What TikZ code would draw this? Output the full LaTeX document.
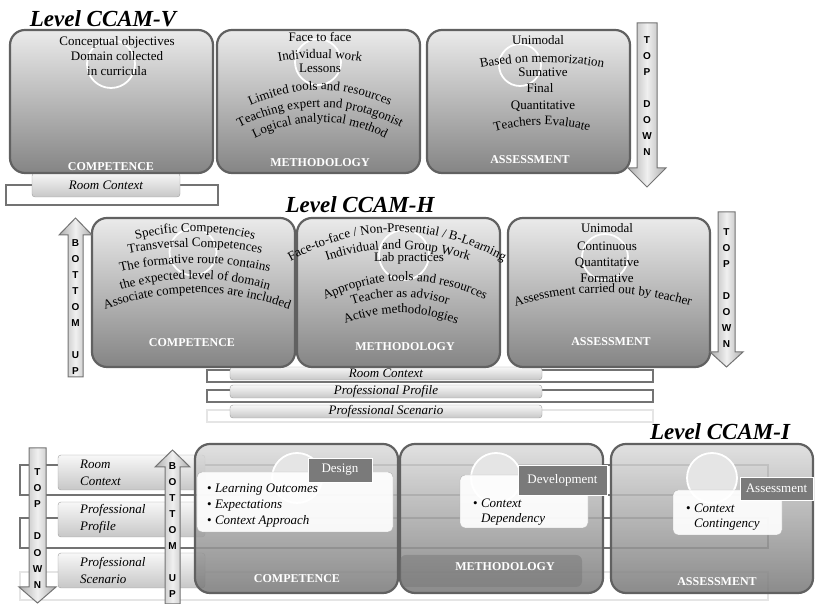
\documentclass[tikz,border=0pt]{standalone}
\usepackage{fontspec}
\setmainfont{Liberation Serif}
\newfontfamily\arrowfont{Liberation Sans}
\usepackage{tikz}
\usetikzlibrary{decorations.text}
\newcommand\bodyfont{\fontsize{13}{16}\selectfont}

\begin{document}
\begin{tikzpicture}[x=1pt, y=1pt,
	panel/.style={draw=black!62, line width=2.2pt, rounded corners=15pt, top color=black!8, middle color=black!22, bottom color=black!48, minimum width=203pt, minimum height=149pt, inner sep=0pt},
	lowpanel/.style={panel, top color=black!14, middle color=black!30, bottom color=black!53, fill opacity=0.86},
	ring/.style={circle, draw=white, line width=1.8pt, minimum size=48pt, inner sep=0pt},
	txt/.style={font=\bodyfont, inner sep=0pt, anchor=base},
	lbl/.style={font=\fontsize{12}{14}\selectfont\bfseries, text=white, inner sep=0pt},
	leveltitle/.style={font=\fontsize{23}{26}\selectfont\bfseries\itshape, inner sep=0pt, anchor=base},
	archtext/.style={decorate, decoration={text along path, text align=center, text={|\bodyfont|#1}}},
	blockarrow/.style={draw=black!55, line width=1pt, left color=black!32, right color=black!32, middle color=black!6},
	updown/.style={font=\arrowfont\bfseries\fontsize{10}{16.1}\selectfont, align=center, inner sep=0pt},
	ctxframe/.style={draw=black!55, line width=1.2pt, fill=white, inner sep=0pt},
	ctxbar/.style={draw=black!38, rounded corners=3pt, top color=black!3, bottom color=black!22, inner sep=0pt, font=\bodyfont\itshape},
	note/.style={draw=black!30, rounded corners=5pt, fill=white, fill opacity=0.92, inner sep=0pt},
	tagbox/.style={fill=black!52, draw=white, line width=0.6pt, text=white, font=\bodyfont, inner sep=0pt}
	]
	\useasboundingbox (0,0) rectangle (815,604);

	% Level CCAM-V
	\node[leveltitle] (vtitle) at (103,577) {Level CCAM-V};
	\node[ctxframe, minimum width=212pt, minimum height=20pt] (vframe) at (112,409) {};
	\node[ctxbar, minimum width=148pt, minimum height=24pt] (vroom) at (106,419) {Room Context};

	\node[panel, minimum height=143pt] (vcomp) at (111.5,502.5) {};
	\node[panel, minimum height=143pt] (vmeth) at (318.5,502.5) {};
	\node[panel, minimum height=143pt] (vass) at (528.5,502.5) {};
	\node[ring, minimum size=48pt] (vcompring) at (111,540) {};
	\node[ring, minimum size=46pt] (vmethring) at (318,542) {};
	\node[ring, minimum size=42pt] (vassring) at (520,539) {};

	\node[txt] (vcomp1) at (117,558) {Conceptual objectives};
	\node[txt] (vcomp2) at (117,543) {Domain collected};
	\node[txt] (vcomp3) at (117,528) {in curricula};

	\node[txt] (vmeth1) at (320,562) {Face to face};
	\path[archtext={Individual work}] (252,536) .. controls (297.3,549.3) and (342.7,549.3) .. (388,536);
	\node[txt] (vmeth3) at (320,531) {Lessons};
	\path[archtext={Limited tools and resources}] (225,484.5) .. controls (288.3,523.8) and (351.7,523.8) .. (415,484.5);
	\path[archtext={Teaching expert and protagonist}] (215,462.5) .. controls (285,508.5) and (355,508.5) .. (425,462.5);
	\path[archtext={Logical analytical method}] (228,449.9) .. controls (289.3,492.7) and (350.7,492.7) .. (412,449.9);

	\node[txt] (vass1) at (538,559) {Unimodal};
	\path[archtext={Based on memorization}] (455,530.2) .. controls (513,545.9) and (571,545.9) .. (629,530.2);
	\node[txt] (vass3) at (543,527) {Sumative};
	\node[txt] (vass4) at (540,511) {Final};
	\node[txt] (vass5) at (543,494) {Quantitative};
	\path[archtext={Teachers Evaluate}] (467,463.3) .. controls (517,484.3) and (567,484.3) .. (617,463.3);

	\node[lbl] (vcomplbl) at (111,437) {COMPETENCE};
	\node[lbl] (vmethlbl) at (320,441) {METHODOLOGY};
	\node[lbl] (vasslbl) at (530,444) {ASSESSMENT};

	\draw[blockarrow] (637,581) -- (657,581) -- (657,436) -- (666,436) -- (647,417) -- (628,436) -- (637,436) -- cycle;
	\node[updown] (vtopdown) at (647,508) {T\\O\\P\\[16.1pt]D\\O\\W\\N};

	% Level CCAM-H
	\node[leveltitle] (htitle) at (360,391) {Level CCAM-H};
	\node[ctxframe, minimum width=446pt, minimum height=12pt] (hframe1) at (430,228) {};
	\node[ctxframe, minimum width=446pt, minimum height=12pt] (hframe2) at (430,208) {};
	\node[ctxframe, draw=black!10, minimum width=446pt, minimum height=12pt] (hframe3) at (430,188) {};
	\node[ctxbar, minimum width=312pt, minimum height=13pt] (hroom) at (386,230.5) {Room Context};
	\node[ctxbar, minimum width=312pt, minimum height=13pt] (hprofile) at (386,212.5) {Professional Profile};
	\node[ctxbar, minimum width=312pt, minimum height=13pt] (hscenario) at (386,192.5) {Professional Scenario};

	\node[panel] (hcomp) at (193.5,311.5) {};
	\node[panel] (hmeth) at (398.5,311.5) {};
	\node[panel, minimum width=202pt] (hass) at (609,311.5) {};
	\node[ring, minimum size=47pt] (hcompring) at (193,352) {};
	\node[ring, minimum size=50pt] (hmethring) at (404,349) {};
	\node[ring, minimum size=46pt] (hassring) at (605,347) {};

	\path[archtext={Specific Competencies}] (108,356.3) .. controls (166,377.3) and (224,377.3) .. (282,356.3);
	\path[archtext={Transversal Competences}] (104,345.6) .. controls (164.7,360.8) and (225.3,360.8) .. (286,345.6);
	\path[archtext={The formative route contains}] (95,325) .. controls (161.7,346.3) and (228.3,346.3) .. (295,325);
	\path[archtext={the expected level of domain}] (95,305.4) .. controls (161.7,331.5) and (228.3,331.5) .. (295,305.4);
	\path[archtext={Associate competences are included}] (75,282.5) .. controls (156.3,320.5) and (237.7,320.5) .. (319,282.5);

	\path[archtext={Face-to-face / Non-Presential / B-Learning}] (264,326.5) .. controls (352.7,387.2) and (441.3,387.2) .. (530,326.5);
	\path[archtext={Individual and Group Work}] (301,333.2) .. controls (365.7,362.3) and (430.3,362.3) .. (495,333.2);
	\node[txt] (hmeth3) at (409,342) {Lab practices};
	\path[archtext={Appropriate tools and resources}] (302,291.6) .. controls (370.7,333.5) and (439.3,333.5) .. (508,291.6);
	\path[archtext={Teacher as advisor}] (330,290.1) .. controls (376.7,312.6) and (423.3,312.6) .. (470,290.1);
	\path[archtext={Active methodologies}] (320,268) .. controls (374,298.7) and (428,298.7) .. (482,268);

	\node[txt] (hass1) at (607,371) {Unimodal};
	\node[txt] (hass2) at (607,353) {Continuous};
	\node[txt] (hass3) at (607,337) {Quantitative};
	\node[txt] (hass4) at (607,321) {Formative};
	\path[archtext={Assessment carried out by teacher}] (491,289.5) .. controls (565.7,318.2) and (640.3,318.2) .. (715,289.5);

	\node[lbl] (hcomplbl) at (192,261) {COMPETENCE};
	\node[lbl] (hmethlbl) at (405,257) {METHODOLOGY};
	\node[lbl] (hasslbl) at (611,262) {ASSESSMENT};

	\draw[blockarrow] (68,227) -- (83,227) -- (83,369) -- (92,369) -- (75.5,386) -- (59,369) -- (68,369) -- cycle;
	\node[updown] (hbottomup) at (75.5,297) {B\\O\\T\\T\\O\\M\\[16.1pt]U\\P};
	\draw[blockarrow] (718,392) -- (735,392) -- (735,252) -- (743,252) -- (726.5,237) -- (710,252) -- (718,252) -- cycle;
	\node[updown] (htopdown) at (726.5,316) {T\\O\\P\\[16.1pt]D\\O\\W\\N};

	% Level CCAM-I
	\node[leveltitle] (ititle) at (720,164) {Level CCAM-I};
	\node[ctxframe, fill=none, minimum width=748pt, minimum height=30pt] (iframe1) at (394,124) {};
	\node[ctxframe, fill=none, minimum width=748pt, minimum height=30pt] (iframe2) at (394,71) {};
	\node[ctxframe, fill=none, draw=black!10, minimum width=748pt, minimum height=28pt] (iframe3) at (394,18) {};
	\node[ctxbar, minimum width=147pt, minimum height=35pt] (iroom) at (131.5,131.5) {};
	\node[ctxbar, minimum width=147pt, minimum height=35pt] (iprofile) at (131.5,84.5) {};
	\node[ctxbar, minimum width=147pt, minimum height=35pt] (iscenario) at (131.5,33.5) {};
	\node[font=\fontsize{13}{17}\selectfont\itshape, align=left, anchor=west, inner sep=0pt] (iroomtxt) at (80,131.5) {Room\\Context};
	\node[font=\fontsize{13}{17}\selectfont\itshape, align=left, anchor=west, inner sep=0pt] (iprofiletxt) at (80,85) {Professional\\Profile};
	\node[font=\fontsize{13}{17}\selectfont\itshape, align=left, anchor=west, inner sep=0pt] (iscenariotxt) at (80,33.5) {Professional\\Scenario};

	\node[lowpanel] (icomp) at (296.5,85.5) {};
	\node[lowpanel] (imeth) at (501.5,85.5) {};
	\node[lowpanel, minimum width=202pt] (iass) at (712,85.5) {};
	\node[fill=black!55, fill opacity=0.45, rounded corners=6pt, minimum width=182pt, minimum height=32pt, inner sep=0pt] (imethstrip) at (491,33) {};

	\node[ring, fill=black!10, minimum size=50pt] (icompring) at (297,126) {};
	\node[ring, fill=black!10, minimum size=50pt] (imethring) at (496,126) {};
	\node[ring, fill=black!10, minimum size=50pt] (iassring) at (712,126) {};

	\node[note, minimum width=196pt, minimum height=60pt] (designnote) at (295,102) {};
	\node[note, minimum width=128pt, minimum height=53pt] (devnote) at (524,102.5) {};
	\node[note, minimum width=109pt, minimum height=45pt] (assnote) at (727.5,91.5) {};
	\node[tagbox, minimum width=64pt, minimum height=24pt] (designtag) at (340,134) {Design};
	\node[tagbox, minimum width=89pt, minimum height=30pt] (devtag) at (562.5,124) {Development};
	\node[tagbox, minimum width=73pt, minimum height=23pt] (asstag) at (776.5,115.5) {Assessment};

	\node[font=\bodyfont, align=left, anchor=north west, inner sep=0pt] (designlist) at (207,120) {\textbullet\ \textit{Learning Outcomes}\\\textbullet\ \textit{Expectations}\\\textbullet\ \textit{Context Approach}};
	\node[font=\fontsize{13}{15}\selectfont, align=left, anchor=north west, inner sep=0pt] (devlist) at (473,105) {\textbullet\ \textit{Context}\\\phantom{\textbullet\ }\textit{Dependency}};
	\node[font=\fontsize{13}{15}\selectfont, align=left, anchor=north west, inner sep=0pt] (asslist) at (686,100) {\textbullet\ \textit{Context}\\\phantom{\textbullet\ }\textit{Contingency}};

	\node[lbl] (icomplbl) at (297,25) {COMPETENCE};
	\node[lbl] (imethlbl) at (505,37) {METHODOLOGY};
	\node[lbl] (iasslbl) at (717,22) {ASSESSMENT};

	\draw[blockarrow] (29,156) -- (46,156) -- (46,17) -- (56,17) -- (37.5,1) -- (19,17) -- (29,17) -- cycle;
	\node[updown] (itopdown) at (37.5,75.5) {T\\O\\P\\[16.1pt]D\\O\\W\\N};
	\draw[blockarrow] (165,0) -- (180,0) -- (180,137) -- (190,137) -- (172.5,154) -- (155,137) -- (165,137) -- cycle;
	\node[updown] (ibottomup) at (172.5,74) {B\\O\\T\\T\\O\\M\\[16.1pt]U\\P};
\end{tikzpicture}
\end{document}
